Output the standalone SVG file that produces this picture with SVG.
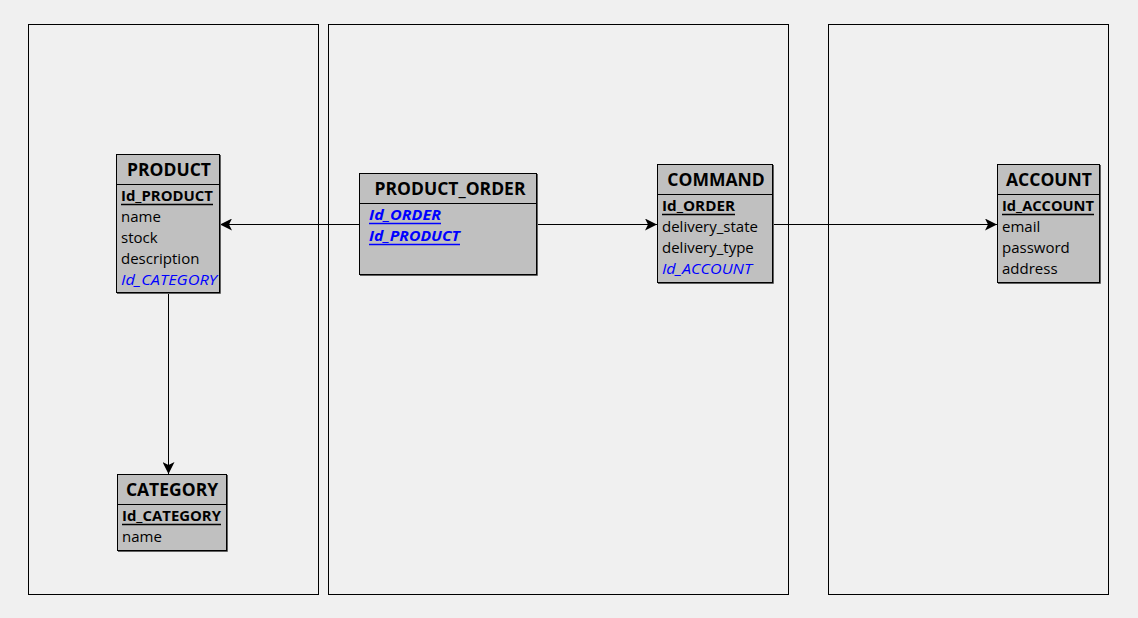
<svg xmlns="http://www.w3.org/2000/svg" width="1138" height="618" viewBox="0 0 1138 618">
<style>
.bg{fill:#f0f0f0}
.cont{fill:none;stroke:#000;stroke-width:1}
.box{fill:#c0c0c0;stroke:#000;stroke-width:1}
.sh{fill:none;stroke:#606060;stroke-width:1}
.sep{stroke:#000;stroke-width:1}
.ul{stroke:#000;stroke-width:1.3}
.ulb{stroke:#0000ff;stroke-width:1.3}
.t{font-family:"Open Sans","Noto Sans",sans-serif;font-size:17.5px;font-weight:bold;fill:#000}
.f{font-family:"Open Sans","Noto Sans",sans-serif;font-size:15px;fill:#000}
.pk{font-weight:bold}
.fk{fill:#0000ff;font-style:italic}
.c{stroke:#000;stroke-width:1;fill:none}
</style>
<defs>
<marker id="ar" viewBox="0 0 12 12" refX="12" refY="6" markerWidth="12" markerHeight="12" markerUnits="userSpaceOnUse" orient="auto">
<path d="M0,0 L12,6 L0,12 L3,6 z" fill="#000"/>
</marker>
</defs>
<rect class="bg" x="0" y="0" width="1138" height="618"/>
<g id="containers">
<rect class="cont" x="28.5" y="24.5" width="290" height="570"/>
<rect class="cont" x="328.5" y="24.5" width="460" height="570"/>
<rect class="cont" x="828.5" y="24.5" width="280" height="570"/>
</g>
<g id="connectors">
<line class="c" x1="359" y1="224.5" x2="220" y2="224.5" marker-end="url(#ar)"/>
<line class="c" x1="537" y1="224.5" x2="657" y2="224.5" marker-end="url(#ar)"/>
<line class="c" x1="773" y1="224.5" x2="997" y2="224.5" marker-end="url(#ar)"/>
<line class="c" x1="168.5" y1="293" x2="168.5" y2="474" marker-end="url(#ar)"/>
</g>
<g id="PRODUCT">
<rect class="box" x="116.5" y="154.5" width="103" height="138"/>
<polyline class="sh" points="220.5,155 220.5,293.5 117,293.5"/>
<line class="sep" x1="116.5" y1="184.5" x2="219.5" y2="184.5"/>
<text class="t" x="169" y="176" text-anchor="middle">PRODUCT</text>
<text class="f pk" x="121" y="201" textLength="92" lengthAdjust="spacingAndGlyphs">Id_PRODUCT</text>
<line class="ul" x1="121" y1="204.5" x2="213" y2="204.5"/>
<text class="f" x="121" y="222">name</text>
<text class="f" x="121" y="243">stock</text>
<text class="f" x="121" y="264">description</text>
<text class="f fk" x="121" y="285" textLength="96" lengthAdjust="spacingAndGlyphs">Id_CATEGORY</text>
</g>
<g id="PRODUCT_ORDER">
<rect class="box" x="359.5" y="173.5" width="177" height="101"/>
<polyline class="sh" points="537.5,174 537.5,275.5 360,275.5"/>
<line class="sep" x1="359.5" y1="203.5" x2="536.5" y2="203.5"/>
<text class="t" x="450" y="195" text-anchor="middle">PRODUCT_ORDER</text>
<text class="f pk fk" x="369" y="220" textLength="72" lengthAdjust="spacingAndGlyphs">Id_ORDER</text>
<line class="ulb" x1="369" y1="223.5" x2="441" y2="223.5"/>
<text class="f pk fk" x="369" y="241" textLength="91" lengthAdjust="spacingAndGlyphs">Id_PRODUCT</text>
<line class="ulb" x1="369" y1="244.5" x2="460" y2="244.5"/>
</g>
<g id="COMMAND">
<rect class="box" x="657.5" y="164.5" width="115" height="118"/>
<polyline class="sh" points="773.5,165 773.5,283.5 658,283.5"/>
<line class="sep" x1="657.5" y1="194.5" x2="772.5" y2="194.5"/>
<text class="t" x="716" y="186" text-anchor="middle">COMMAND</text>
<text class="f pk" x="662" y="211" textLength="73" lengthAdjust="spacingAndGlyphs">Id_ORDER</text>
<line class="ul" x1="662" y1="214.5" x2="735" y2="214.5"/>
<text class="f" x="662" y="232">delivery_state</text>
<text class="f" x="662" y="253">delivery_type</text>
<text class="f fk" x="662" y="274" textLength="90" lengthAdjust="spacingAndGlyphs">Id_ACCOUNT</text>
</g>
<g id="ACCOUNT">
<rect class="box" x="997.5" y="164.5" width="102" height="118"/>
<polyline class="sh" points="1100.5,165 1100.5,283.5 998,283.5"/>
<line class="sep" x1="997.5" y1="194.5" x2="1099.5" y2="194.5"/>
<text class="t" x="1049" y="186" text-anchor="middle">ACCOUNT</text>
<text class="f pk" x="1002" y="211" textLength="92" lengthAdjust="spacingAndGlyphs">Id_ACCOUNT</text>
<line class="ul" x1="1002" y1="214.5" x2="1094" y2="214.5"/>
<text class="f" x="1002" y="232">email</text>
<text class="f" x="1002" y="253">password</text>
<text class="f" x="1002" y="274">address</text>
</g>
<g id="CATEGORY">
<rect class="box" x="117.5" y="474.5" width="109" height="76"/>
<polyline class="sh" points="227.5,475 227.5,551.5 118,551.5"/>
<line class="sep" x1="117.5" y1="504.5" x2="226.5" y2="504.5"/>
<text class="t" x="172" y="496" text-anchor="middle">CATEGORY</text>
<text class="f pk" x="122" y="521" textLength="99" lengthAdjust="spacingAndGlyphs">Id_CATEGORY</text>
<line class="ul" x1="122" y1="524.5" x2="221" y2="524.5"/>
<text class="f" x="122" y="542">name</text>
</g>
</svg>
